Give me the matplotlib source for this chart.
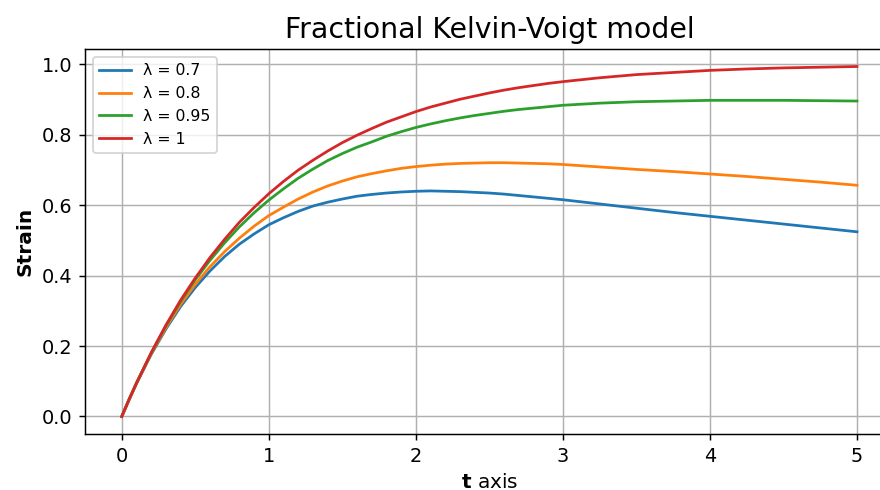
import numpy as np
import matplotlib
matplotlib.use("Agg")
import matplotlib.pyplot as plt

# time samples and strain response for each fractional order
t = [0.0, 0.05, 0.1, 0.2, 0.3, 0.4, 0.5, 0.6, 0.7, 0.8, 0.9, 1.0,
     1.1, 1.2, 1.3, 1.4, 1.5, 1.6, 1.7, 1.8, 1.9, 2.0,
     2.1, 2.2, 2.3, 2.4, 2.5, 2.6, 2.7, 2.8, 2.9, 3.0,
     3.25, 3.5, 3.75, 4.0, 4.25, 4.5, 4.75, 5.0]

strain_07 = [0.0, 0.047, 0.093, 0.176, 0.248, 0.312, 0.366, 0.413, 0.454, 0.489, 0.518, 0.544,
             0.564, 0.582, 0.597, 0.608, 0.617, 0.625, 0.630, 0.634, 0.637, 0.639,
             0.640, 0.639, 0.638, 0.636, 0.634, 0.631, 0.627, 0.623, 0.619, 0.615,
             0.603, 0.591, 0.579, 0.568, 0.557, 0.546, 0.535, 0.524]
strain_08 = [0.0, 0.048, 0.094, 0.178, 0.252, 0.318, 0.375, 0.425, 0.468, 0.506, 0.540, 0.570,
             0.594, 0.617, 0.637, 0.654, 0.668, 0.680, 0.689, 0.697, 0.704, 0.709,
             0.713, 0.716, 0.718, 0.719, 0.720, 0.720, 0.719, 0.718, 0.717, 0.715,
             0.708, 0.701, 0.695, 0.688, 0.681, 0.673, 0.665, 0.656]
strain_095 = [0.0, 0.049, 0.095, 0.180, 0.257, 0.326, 0.388, 0.443, 0.493, 0.538, 0.578, 0.614,
              0.646, 0.676, 0.702, 0.726, 0.746, 0.764, 0.779, 0.795, 0.808, 0.820,
              0.830, 0.839, 0.847, 0.854, 0.860, 0.866, 0.871, 0.875, 0.879, 0.883,
              0.889, 0.893, 0.895, 0.897, 0.897, 0.897, 0.896, 0.895]
strain_1 = [0.0, 0.049, 0.095, 0.181, 0.259, 0.330, 0.393, 0.451, 0.503, 0.551, 0.593, 0.632,
            0.667, 0.699, 0.727, 0.753, 0.777, 0.798, 0.817, 0.835, 0.850, 0.865,
            0.878, 0.889, 0.900, 0.909, 0.918, 0.926, 0.933, 0.939, 0.945, 0.950,
            0.961, 0.970, 0.976, 0.982, 0.986, 0.989, 0.991, 0.993]

labels = ["λ = 0.7", "λ = 0.8", "λ = 0.95", "λ = 1"]
series = [strain_07, strain_08, strain_095, strain_1]

fig = plt.figure(figsize=(880 / 132, 490 / 132), dpi=132)
ax = fig.add_axes([0.0966, 0.1143, 0.919, 0.7857])

for y, lab in zip(series, labels):
    ax.plot(t, y, label=lab)

ax.set_title("Fractional Kelvin-Voigt model", fontsize=15.5)
ax.set_xlabel(r"$\bf{t}$ axis", fontsize=11)
ax.set_ylabel("Strain", fontsize=11, fontweight="bold")
ax.tick_params(labelsize=10.5)
ax.grid(True)
ax.legend(loc="upper left", fontsize=8.6)

fig.savefig("out.png", dpi=132)
